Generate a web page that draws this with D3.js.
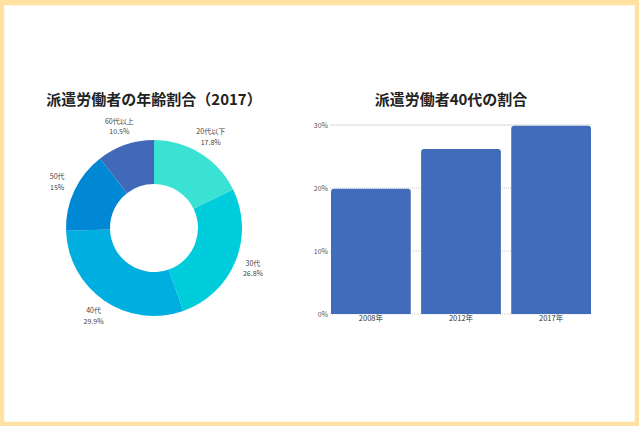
<!DOCTYPE html>
<html><head><meta charset="utf-8">
<script src="https://cdn.jsdelivr.net/npm/d3@7"></script>
<style>
html,body{margin:0;padding:0;background:#fff;}
svg{display:block;}
text{font-family:"Noto Sans CJK JP","Noto Sans",sans-serif;}
</style></head><body>
<svg id="c" width="639" height="426"></svg>
<script>
// Donut data
const ageLabels = ["20代以下", "30代", "40代", "50代", "60代以上"];
const ageValues = [17.8, 26.8, 29.9, 15, 10.5];
const ageColors = ["#3ae2d4", "#00cddc", "#00aedf", "#0088d5", "#4169b9"];
// Bar data
const years = ["2008年", "2012年", "2017年"];
const share40s = [19.9, 26.2, 29.9];
const yTicks = [0, 10, 20, 30];

const svg = d3.select("#c");
// frame
svg.append("rect").attr("x",0).attr("y",0).attr("width",639).attr("height",426).attr("fill","#ffe2a1");
svg.append("rect").attr("x",4).attr("y",5).attr("width",631).attr("height",417).attr("fill","#fff8e6");
svg.append("rect").attr("x",5).attr("y",6).attr("width",629).attr("height",415).attr("fill","#ffffff");

// ---- Donut ----
const cx = 154, cy = 228, rOut = 88, rIn = 44;
svg.append("text").attr("x",154).attr("y",105).attr("text-anchor","middle")
  .attr("font-size",15).attr("font-weight","bold").attr("fill","#222")
  .text("派遣労働者の年齢割合（2017）");
const pie = d3.pie().sort(null).value(d => d.v);
const arcs = pie(ageLabels.map((l,i)=>({l, v: ageValues[i], c: ageColors[i]})));
const arc = d3.arc().innerRadius(rIn).outerRadius(rOut);
const labelArc = d3.arc().innerRadius(107).outerRadius(107);
const g = svg.append("g").attr("transform",`translate(${cx},${cy})`);
g.selectAll("path").data(arcs).join("path").attr("d",arc).attr("fill",d=>d.data.c);
const lab = g.selectAll("g.lab").data(arcs).join("g").attr("class","lab")
  .attr("transform",d=>{const [x,y]=labelArc.centroid(d);return `translate(${x},${y})`;});
lab.append("text").attr("text-anchor","middle").attr("y",-3).attr("font-size",7).attr("fill","#444").text(d=>d.data.l);
lab.append("text").attr("text-anchor","middle").attr("y",7.5).attr("font-size",7).attr("fill","#444").text(d=>d.data.v+"%");

// ---- Bars ----
svg.append("text").attr("x",451).attr("y",105).attr("text-anchor","middle")
  .attr("font-size",15).attr("font-weight","bold").attr("fill","#222")
  .text("派遣労働者40代の割合");
const x = d3.scaleBand().domain(years).range([331,591]).paddingInner(0.115).paddingOuter(0.0);
const y = d3.scaleLinear().domain([0,30]).range([314,125]);
const grid = svg.append("g");
grid.selectAll("line").data(yTicks).join("line")
  .attr("x1",330).attr("x2",591).attr("y1",d=>y(d)).attr("y2",d=>y(d))
  .attr("stroke",d=>d===30?"#d8d8d8":"#d0d0d0").attr("stroke-width",1)
  .attr("stroke-dasharray",d=>d===30?null:"1,1");
const yAxis = d3.axisLeft(y).tickValues(yTicks).tickFormat(d=>d+"%").tickSize(0).tickPadding(2);
const ya = svg.append("g").attr("transform","translate(330,0)").call(yAxis);
ya.select(".domain").remove();
ya.selectAll("text").attr("font-size",7).attr("fill","#555").attr("font-family",'"Noto Sans CJK JP",sans-serif');

const rr = 3;
svg.append("g").selectAll("path").data(share40s).join("path")
  .attr("fill","#416bbb")
  .attr("d",(d,i)=>{
    const x0 = x(years[i]), w = x.bandwidth(), y0 = y(d), y1 = y(0);
    return `M${x0},${y1}V${y0+rr}Q${x0},${y0} ${x0+rr},${y0}H${x0+w-rr}Q${x0+w},${y0} ${x0+w},${y0+rr}V${y1}Z`;
  });
const xAxis = d3.axisBottom(x).tickSize(0).tickPadding(2);
const xa = svg.append("g").attr("transform","translate(0,314)").call(xAxis);
xa.select(".domain").remove();
xa.selectAll("text").attr("font-size",7.5).attr("fill","#333").attr("font-family",'"Noto Sans CJK JP",sans-serif');
</script>
</body></html>
